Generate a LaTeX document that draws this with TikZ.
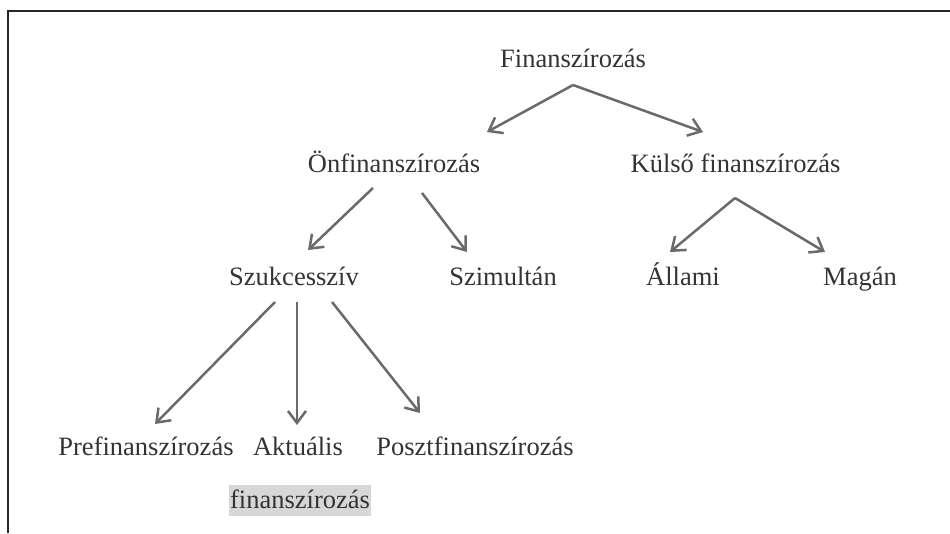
\documentclass[tikz,border=0pt]{standalone}
\usepackage{fontspec}
\setmainfont{Liberation Serif}
\usetikzlibrary{arrows.meta}
\definecolor{txtc}{HTML}{333333}
\definecolor{arrc}{HTML}{6A6A6A}
\definecolor{hlc}{HTML}{D6D8D8}
\begin{document}
\begin{tikzpicture}[x=1pt,y=-1pt,
  lbl/.style={anchor=base,inner sep=0pt,text=txtc,font=\fontsize{26.5}{32}\selectfont},
  arr/.style={draw=arrc,line width=2.5pt,-{Straight Barb[length=12pt,width=18pt,line width=2.5pt]}},
  frame/.style={draw=black!85,line width=2pt}]
\useasboundingbox (0,0) rectangle (950,533);
\draw[frame] (7.5,533) -- (7.5,10.5) -- (950,10.5);
\node[lbl] (fin) at (573,67) {Finanszírozás};
\node[lbl] (onf) at (394,172) {Önfinanszírozás};
\node[lbl] (kul) at (735.5,172) {Külső finanszírozás};
\node[lbl] (szu) at (294,285) {Szukcesszív};
\node[lbl] (szi) at (503,285) {Szimultán};
\node[lbl] (all) at (683,285) {Állami};
\node[lbl] (mag) at (860,285) {Magán};
\node[lbl] (pre) at (146,455) {Prefinanszírozás};
\node[lbl] (akt) at (298,455) {Aktuális};
\node[lbl] (pos) at (475,455) {Posztfinanszírozás};
\node[lbl,fill=hlc,inner xsep=1pt,inner ysep=1pt,text height=22pt,text depth=7pt] (aktb) at (300,508) {finanszírozás};
\draw[arr] ([yshift=-18pt]fin.base) -- ([xshift=93pt,yshift=40pt]onf.base);
\draw[arr] ([yshift=-18pt]fin.base) -- ([xshift=-32.5pt,yshift=40pt]kul.base);
\draw[arr] ([xshift=-21pt,yshift=-16pt]onf.base) -- ([xshift=14pt,yshift=35pt]szu.base);
\draw[arr] ([xshift=28pt,yshift=-21pt]onf.base) -- ([xshift=-36pt,yshift=33pt]szi.base);
\draw[arr] ([xshift=-0.5pt,yshift=-26pt]kul.base) -- ([xshift=-13pt,yshift=33pt]all.base);
\draw[arr] ([xshift=-0.5pt,yshift=-26pt]kul.base) -- ([xshift=-35pt,yshift=33pt]mag.base);
\draw[arr] ([xshift=-19pt,yshift=-17pt]szu.base) -- ([xshift=9pt,yshift=31pt]pre.base);
\draw[arr] ([xshift=3pt,yshift=-17pt]szu.base) -- ([xshift=-1pt,yshift=30pt]akt.base);
\draw[arr] ([xshift=38pt,yshift=-17pt]szu.base) -- ([xshift=-55pt,yshift=42pt]pos.base);
\end{tikzpicture}
\end{document}
